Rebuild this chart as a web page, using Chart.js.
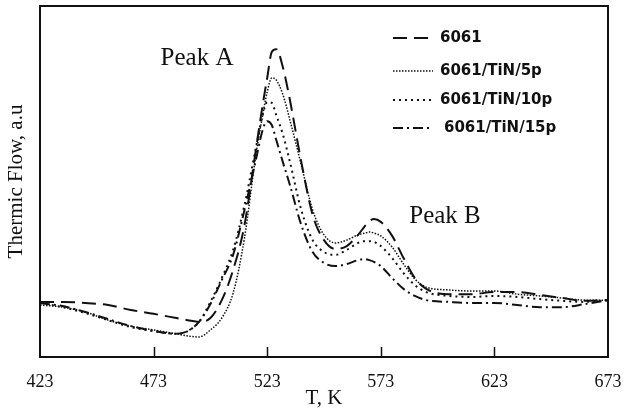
<!DOCTYPE html>
<html>
<head>
<meta charset="utf-8">
<script src="https://cdn.jsdelivr.net/npm/chart.js@4.4.1/dist/chart.umd.min.js"></script>
<style>
  html, body { margin: 0; padding: 0; background: #fff; }
  #wrap { width: 634px; height: 415px; position: relative; }
</style>
</head>
<body>
<div id="wrap"><canvas id="chart1"></canvas></div>
<script>
const temps = [423, 433, 443, 453, 463, 473, 483, 488, 493, 498,
    503, 508, 513, 518, 521, 523, 525, 527, 530, 533,
    538, 543, 548, 553, 558, 563, 566, 568, 570, 573,
    578, 583, 588, 593, 603, 613, 623, 633, 643, 653,
    663, 673];

// thermic flow, arbitrary units (0 = bottom of the frame, 100 = top)
const flow6061 = [15.7, 15.7, 15.4, 14.8, 13.4, 12.3, 11.1, 10.5, 10.0, 11.1,
    16.2, 24.8, 37.6, 59.0, 71.8, 79.5, 86.9, 87.7, 82.3, 73.2,
    55.6, 40.5, 33.3, 30.8, 31.6, 34.8, 37.3, 38.7, 39.3, 38.5,
    34.5, 28.2, 22.5, 19.4, 17.9, 17.9, 18.5, 18.5, 17.7, 16.8,
    16.0, 16.2];
const flow5p = [14.8, 14.2, 12.8, 10.5, 8.8, 7.7, 6.6, 6.0, 5.7, 7.7,
    11.1, 18.2, 33.9, 57.5, 68.9, 75.5, 79.5, 78.9, 74.6, 67.5,
    54.7, 41.9, 34.8, 32.5, 33.3, 34.8, 35.3, 35.6, 35.3, 34.5,
    31.3, 26.5, 22.2, 19.9, 19.1, 18.8, 18.8, 17.9, 17.4, 16.8,
    16.2, 16.2];
const flow10p = [15.4, 14.2, 12.5, 10.5, 8.5, 7.4, 6.6, 7.4, 10.0, 15.7,
    22.5, 30.5, 43.3, 59.5, 68.9, 72.6, 72.4, 68.9, 63.2, 55.6,
    41.9, 33.3, 29.9, 29.1, 30.5, 32.5, 33.0, 33.0, 32.8, 31.6,
    28.2, 23.9, 20.5, 18.5, 17.4, 17.1, 17.4, 17.1, 16.5, 16.0,
    15.7, 16.2];
const flow15p = [15.4, 14.5, 12.8, 10.8, 8.8, 7.4, 6.6, 7.4, 10.0, 15.1,
    21.9, 29.1, 41.9, 56.1, 64.7, 67.2, 66.1, 61.8, 55.3, 49.0,
    37.6, 29.9, 26.8, 25.9, 26.5, 27.6, 27.9, 27.6, 27.1, 25.9,
    22.5, 19.4, 17.4, 16.2, 15.7, 15.4, 15.4, 14.8, 14.2, 14.2,
    15.1, 16.2];

const seriesNames = ['6061', '6061/TiN/5p', '6061/TiN/10p', '6061/TiN/15p'];
const xTicks = [423, 473, 523, 573, 623, 673];

const serif = "'Liberation Serif', 'Times New Roman', serif";

// turn arrays into {x, y} points
function toPoints(vals) {
    return temps.map((t, i) => ({ x: t, y: vals[i] }));
}

const styles = [
    { dash: [14, 7], width: 2 },
    { dash: [1.5, 1.5], width: 1.5 },
    { dash: [2, 4], width: 2 },
    { dash: [10, 4, 2, 4], width: 2 }
];

const allFlows = [flow6061, flow5p, flow10p, flow15p];

// frame, inner ticks, peak labels and legend
const decorPlugin = {
    id: 'decor',
    afterDraw(chart) {
        const ctx = chart.ctx;
        const a = chart.chartArea;
        const xs = chart.scales.x;
        ctx.save();
        ctx.strokeStyle = '#111';
        ctx.lineWidth = 2;
        ctx.setLineDash([]);
        ctx.strokeRect(a.left, a.top, a.right - a.left, a.bottom - a.top);

        // small ticks pointing up from the bottom axis
        ctx.lineWidth = 1.5;
        xTicks.slice(1, -1).forEach(v => {
            const px = Math.round(xs.getPixelForValue(v)) + 0.5;
            ctx.beginPath();
            ctx.moveTo(px, a.bottom);
            ctx.lineTo(px, a.bottom - 10);
            ctx.stroke();
        });

        // peak labels
        ctx.fillStyle = '#111';
        ctx.font = "25px " + serif;
        ctx.textAlign = 'center';
        ctx.textBaseline = 'middle';
        ctx.fillText('Peak A', 197, 58);
        ctx.fillText('Peak B', 445, 216);

        // legend
        ctx.font = "bold 15px 'DejaVu Sans', sans-serif";
        ctx.textAlign = 'left';
        const rows = [38, 71, 100, 128];
        seriesNames.forEach((name, i) => {
            const y = rows[i];
            ctx.lineWidth = styles[i].width;
            ctx.setLineDash(styles[i].dash);
            ctx.beginPath();
            ctx.moveTo(393, y);
            ctx.lineTo(433, y);
            ctx.stroke();
            ctx.setLineDash([]);
            ctx.fillText(name, i === 3 ? 444 : 440, y);
        });
        ctx.restore();
    }
};

function createChart() {
    const ctx = document.querySelector('#chart1');
    new Chart(ctx, {
        type: 'line',
        data: {
            datasets: allFlows.map((vals, i) => ({
                label: seriesNames[i],
                data: toPoints(vals),
                borderColor: '#111',
                borderWidth: styles[i].width,
                borderDash: styles[i].dash,
                pointRadius: 0,
                fill: false,
                cubicInterpolationMode: 'monotone'
            }))
        },
        options: {
            responsive: true,
            maintainAspectRatio: false,
            animation: false,
            layout: { padding: { top: 6, right: 26, left: 0, bottom: 0 } },
            plugins: {
                legend: { display: false },
                tooltip: { enabled: false }
            },
            scales: {
                x: {
                    type: 'linear',
                    min: 423,
                    max: 673,
                    afterBuildTicks: scale => {
                        scale.ticks = xTicks.map(v => ({ value: v }));
                    },
                    afterFit: scale => { scale.height = 58; },
                    grid: { display: false },
                    border: { display: false },
                    ticks: {
                        color: '#111',
                        padding: 6,
                        maxRotation: 0,
                        font: { family: serif, size: 18 }
                    },
                    title: {
                        display: true,
                        text: 'T, K',
                        color: '#111',
                        padding: { top: 0 },
                        font: { family: serif, size: 21 }
                    }
                },
                y: {
                    min: 0,
                    max: 100,
                    afterFit: scale => { scale.width = 40; },
                    grid: { display: false },
                    border: { display: false },
                    ticks: { display: false },
                    title: {
                        display: true,
                        text: 'Thermic Flow, a.u',
                        color: '#111',
                        font: { family: serif, size: 21 }
                    }
                }
            }
        },
        plugins: [decorPlugin]
    });
}

createChart();
</script>
</body>
</html>
